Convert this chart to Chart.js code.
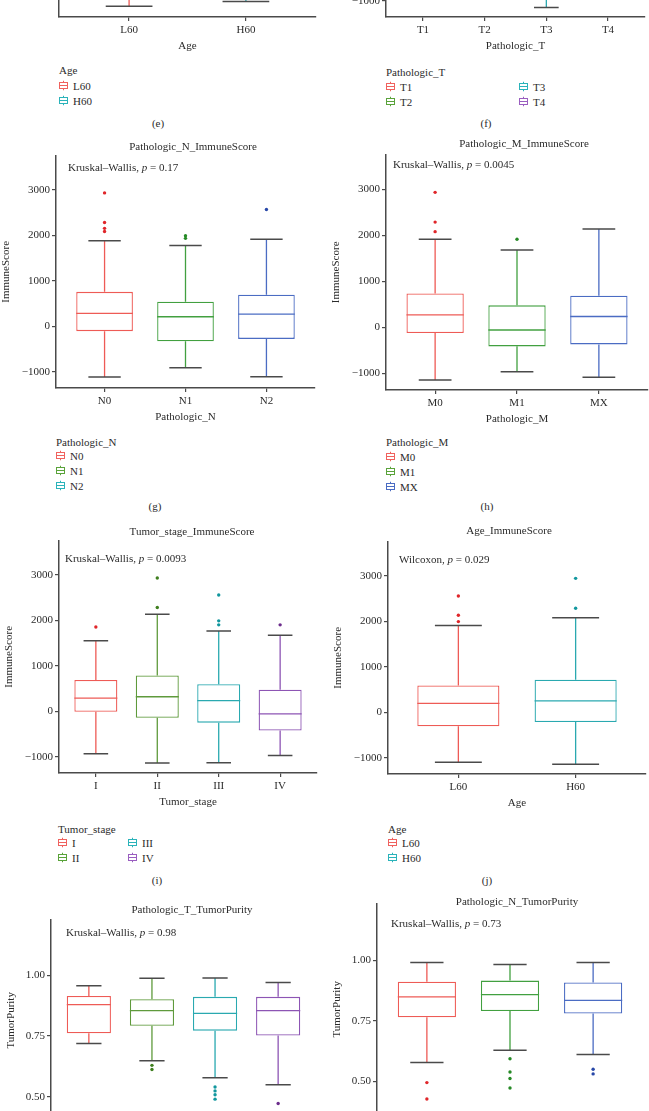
<!DOCTYPE html>
<html>
<head>
<meta charset="utf-8">
<script src="https://cdn.jsdelivr.net/npm/chart.js@4.4.0/dist/chart.umd.min.js"></script>
<style>
  body { margin: 0; background: #fff; }
  #fig { position: relative; width: 649px; height: 1111px; overflow: hidden;
         font-family: 'Liberation Serif', 'Times New Roman', serif; font-size: 11px; color: #2b2b2b; }
  #fig canvas { position: absolute; }
  .t { position: absolute; white-space: nowrap; line-height: 11px; transform: translateY(-50%); }
  .c { transform: translate(-50%, -50%); }
  .t svg { vertical-align: -1px; }
</style>
</head>
<body>
<div id="fig"></div>
<script>
// (e) Age - only the bottom of the panel is in view
const eCats = ['L60', 'H60'];
const eLow = [-1365, -1260];
const eQ1 = [-350, -250];
const eMed = [150, 250];
const eQ3 = [650, 750];
const eHigh = [2000, 2100];
const eOut = [[], []];

// (f) Pathologic_T - only the bottom of the panel is in view
const fCats = ['T1', 'T2', 'T3', 'T4'];
const fLow = [-900, -950, -1150, -850];
const fQ1 = [-200, -150, -300, -400];
const fMed = [300, 300, 200, 0];
const fQ3 = [700, 800, 600, 450];
const fHigh = [1600, 2100, 1750, 1650];
const fOut = [[], [], [], []];

// (g) Pathologic_N_ImmuneScore
const gCats = ['N0', 'N1', 'N2'];
const gLow = [-1120, -914, -1114];
const gQ1 = [-110, -332, -280];
const gMed = [280, 207, 265];
const gQ3 = [754, 539, 690];
const gHigh = [1875, 1774, 1910];
const gOut = [[2930, 2280, 2150, 2080], [1990, 1930], [2565]];

// (h) Pathologic_M_ImmuneScore
const hCats = ['M0', 'M1', 'MX'];
const hLow = [-1141, -964, -1085];
const hQ1 = [-122, -413, -370];
const hMed = [272, -57, 236];
const hQ3 = [735, 478, 685];
const hHigh = [1910, 1677, 2134];
const hOut = [[2930, 2285, 2077], [1913], []];

// (i) Tumor_stage_ImmuneScore
const iCats = ['I', 'II', 'III', 'IV'];
const iLow = [-937, -1140, -1133, -974];
const iQ1 = [-15, -145, -253, -426];
const iMed = [288, 317, 232, -58];
const iQ3 = [686, 786, 591, 472];
const iHigh = [1548, 2132, 1764, 1670];
const iOut = [[1851], [2928, 2279], [2554, 1985, 1898], [1898]];

// (j) Age_ImmuneScore
const jCats = ['L60', 'H60'];
const jLow = [-1104, -1147];
const jQ1 = [-310, -216];
const jMed = [195, 247];
const jQ3 = [585, 714];
const jHigh = [1904, 2078];
const jOut = [[2553, 2131, 1991], [2942, 2285]];

// Pathologic_T_TumorPurity (bottom cut off)
const kCats = ['T1', 'T2', 'T3', 'T4'];
const kLow = [0.719, 0.648, 0.578, 0.549];
const kQ1 = [0.761, 0.792, 0.772, 0.752];
const kMed = [0.879, 0.854, 0.843, 0.854];
const kQ3 = [0.915, 0.901, 0.911, 0.911];
const kHigh = [0.957, 0.988, 0.989, 0.970];
const kOut = [[], [0.629, 0.612], [0.540, 0.524, 0.508, 0.490], [0.472]];

// Pathologic_N_TumorPurity (bottom cut off)
const lCats = ['N0', 'N1', 'N2'];
const lLow = [0.577, 0.628, 0.610];
const lQ1 = [0.764, 0.790, 0.780];
const lMed = [0.849, 0.858, 0.834];
const lQ3 = [0.911, 0.916, 0.908];
const lHigh = [0.991, 0.983, 0.991];
const lOut = [[0.494, 0.426], [0.593, 0.538, 0.511, 0.472], [0.549, 0.530]];

const immuneTicks = [-1000, 0, 1000, 2000, 3000];
const purityTicks = [0.50, 0.75, 1.00];

const fig = document.getElementById('fig');
const family = "'Liberation Serif', 'Times New Roman', serif";
const textColor = '#2b2b2b';
const axisColor = '#4a4a4a';
const capColor = '#4a4a4a';

const red = '#ee5b56', green = '#42a040', olive = '#5f9a3c', blue = '#4b6cc3', teal = '#2aa9b0', purple = '#8d55b4';
const dRed = '#e0262a', dGreen = '#268a26', dOlive = '#3f7f1f', dBlue = '#2848a8', dTeal = '#12979e', dPurple = '#6c2d8c';
const lgRed = '#f0625e', lgGreen = '#5aa33a', lgTeal = '#2bb3ba', lgBlue = '#4b6cc3', lgPurple = '#9a5ec0';

const fmtImmune = v => (v < 0 ? '\u2212' + Math.abs(v) : String(v));
const fmtPurity = v => v.toFixed(2);

function boxPanel(p) {
  const n = p.cats.length;
  const cv = document.createElement('canvas');
  cv.width = p.yWidth + (p.right - p.left) + 6;
  cv.height = 5 + (p.bottom - p.top) + 40;
  cv.style.left = (p.left - p.yWidth) + 'px';
  cv.style.top = (p.top - 5) + 'px';
  fig.appendChild(cv);

  const points = [], pointColors = [];
  p.out.forEach((vals, i) => vals.forEach(v => {
    points.push({x: i, y: v});
    pointColors.push(p.dots[i]);
  }));

  const whiskers = {
    id: 'whiskers',
    beforeDatasetsDraw(chart) {
      const {ctx, scales: {x, y}} = chart;
      const step = x.getPixelForValue(1) - x.getPixelForValue(0);
      ctx.save();
      for (let i = 0; i < n; i++) {
        const cx = x.getPixelForValue(i);
        ctx.strokeStyle = p.colors[i];
        ctx.lineWidth = 1.3;
        ctx.beginPath();
        ctx.moveTo(cx, y.getPixelForValue(p.q3[i]));
        ctx.lineTo(cx, y.getPixelForValue(p.high[i]));
        ctx.moveTo(cx, y.getPixelForValue(p.q1[i]));
        ctx.lineTo(cx, y.getPixelForValue(p.low[i]));
        ctx.stroke();
        ctx.strokeStyle = capColor;
        ctx.lineWidth = 1.5;
        ctx.beginPath();
        [p.high[i], p.low[i]].forEach(v => {
          const py = y.getPixelForValue(v);
          ctx.moveTo(cx - step * 0.2, py);
          ctx.lineTo(cx + step * 0.2, py);
        });
        ctx.stroke();
      }
      ctx.restore();
    },
    afterDatasetsDraw(chart) {
      const {ctx, scales: {x, y}} = chart;
      const step = x.getPixelForValue(1) - x.getPixelForValue(0);
      ctx.save();
      ctx.lineWidth = 1.3;
      for (let i = 0; i < n; i++) {
        const cx = x.getPixelForValue(i);
        const py = y.getPixelForValue(p.med[i]);
        ctx.strokeStyle = p.colors[i];
        ctx.beginPath();
        ctx.moveTo(cx - step * 0.35, py);
        ctx.lineTo(cx + step * 0.35, py);
        ctx.stroke();
      }
      ctx.restore();
    }
  };

  const font = {family: family, size: 11};
  new Chart(cv, {
    type: 'bar',
    data: {
      datasets: [
        {
          type: 'bar',
          data: p.cats.map((c, i) => ({x: i, y: [p.q1[i], p.q3[i]]})),
          backgroundColor: '#ffffff',
          borderColor: p.colors,
          borderWidth: 1.3,
          borderSkipped: false,
          barPercentage: 0.7,
          categoryPercentage: 1
        },
        {
          type: 'scatter',
          data: points,
          pointBackgroundColor: pointColors,
          pointBorderWidth: 0,
          pointRadius: 1.7
        }
      ]
    },
    options: {
      responsive: false,
      animation: false,
      layout: {padding: {top: 5, right: 6, left: 0, bottom: 0}},
      plugins: {legend: {display: false}, tooltip: {enabled: false}},
      scales: {
        x: {
          type: 'linear',
          min: -0.6,
          max: n - 0.4,
          offset: false,
          afterBuildTicks: s => { s.ticks = p.cats.map((c, i) => ({value: i})); },
          afterFit: s => { s.height = 40; },
          grid: {display: true, drawOnChartArea: false, drawTicks: true, tickLength: 4, color: axisColor, lineWidth: 1.2, offset: false},
          border: {display: true, color: axisColor, width: 1.5},
          ticks: {padding: 3, color: textColor, font: font, maxRotation: 0, autoSkip: false, callback: v => p.cats[v]},
          title: {display: true, text: p.xTitle, color: textColor, font: font, padding: {top: 0, bottom: 4}}
        },
        y: {
          min: p.yMin,
          max: p.yMax,
          afterBuildTicks: s => { s.ticks = p.yTicks.map(v => ({value: v})); },
          afterFit: s => { s.width = p.yWidth; },
          grid: {display: true, drawOnChartArea: false, drawTicks: true, tickLength: 4, color: axisColor, lineWidth: 1.2},
          border: {display: true, color: axisColor, width: 1.5},
          ticks: {padding: 2, color: textColor, font: font, callback: v => p.fmt(v)},
          title: {display: true, text: p.yTitle, color: textColor, font: font, padding: 0}
        }
      }
    },
    plugins: [whiskers]
  });
}

function label(x, y, html, cls) {
  const d = document.createElement('div');
  d.className = 't' + (cls ? ' ' + cls : '');
  d.style.left = x + 'px';
  d.style.top = y + 'px';
  d.innerHTML = html;
  fig.appendChild(d);
}

function icon(col) {
  return '<svg width="9" height="10" viewBox="0 0 9 10"><g fill="none" stroke="' + col + '" stroke-width="1">' +
    '<line x1="4.5" y1="0" x2="4.5" y2="2"/><rect x="0.5" y="2" width="8" height="6"/>' +
    '<line x1="0.5" y1="5" x2="8.5" y2="5"/><line x1="4.5" y1="8" x2="4.5" y2="10"/></g></svg>';
}

function legend(x, y, title, names, colors, rows, colGap, dy) {
  label(x, y, title);
  names.forEach((nm, i) => {
    const col = Math.floor(i / rows), row = i % rows;
    label(x + col * colGap, y + dy + 15 * row, icon(colors[i]) + '<span style="margin-left:5px">' + nm + '</span>');
  });
}

const stat = (x, y, test, pv) => label(x, y, test + ', <i>p</i> = ' + pv);

// top row (cut off)
boxPanel({left: 59, right: 316, top: -219, bottom: 17, cats: eCats, low: eLow, q1: eQ1, med: eMed, q3: eQ3, high: eHigh, out: eOut,
  colors: [red, teal], dots: [dRed, dTeal], yMin: -1600, yMax: 3500, yTicks: immuneTicks, fmt: fmtImmune, yWidth: 56, yTitle: 'StromalScore', xTitle: 'Age'});
boxPanel({left: 386, right: 645, top: -219, bottom: 17, cats: fCats, low: fLow, q1: fQ1, med: fMed, q3: fQ3, high: fHigh, out: fOut,
  colors: [red, olive, teal, purple], dots: [dRed, dOlive, dTeal, dPurple], yMin: -1360, yMax: 3750, yTicks: immuneTicks, fmt: fmtImmune, yWidth: 56, yTitle: 'StromalScore', xTitle: 'Pathologic_T'});
legend(59, 70, 'Age', eCats, [lgRed, lgTeal], 2, 0, 15.5);
legend(386, 72, 'Pathologic_T', fCats, [lgRed, lgGreen, lgTeal, lgPurple], 2, 133, 14.5);
label(158, 123, '(e)', 'c');
label(486, 123, '(f)', 'c');

// (g) and (h)
boxPanel({left: 56, right: 315, top: 152, bottom: 388, cats: gCats, low: gLow, q1: gQ1, med: gMed, q3: gQ3, high: gHigh, out: gOut,
  colors: [red, green, blue], dots: [dRed, dGreen, dBlue], yMin: -1360, yMax: 3750, yTicks: immuneTicks, fmt: fmtImmune, yWidth: 56, yTitle: 'ImmuneScore', xTitle: 'Pathologic_N'});
boxPanel({left: 386, right: 648, top: 151, bottom: 390, cats: hCats, low: hLow, q1: hQ1, med: hMed, q3: hQ3, high: hHigh, out: hOut,
  colors: [red, green, blue], dots: [dRed, dGreen, dBlue], yMin: -1360, yMax: 3750, yTicks: immuneTicks, fmt: fmtImmune, yWidth: 56, yTitle: 'ImmuneScore', xTitle: 'Pathologic_M'});
label(193, 146, 'Pathologic_N_ImmuneScore', 'c');
label(524, 143, 'Pathologic_M_ImmuneScore', 'c');
stat(68, 167, 'Kruskal\u2013Wallis', '0.17');
stat(393, 164, 'Kruskal\u2013Wallis', '0.0045');
legend(56, 442, 'Pathologic_N', gCats, [lgRed, lgGreen, lgTeal], 3, 0, 14);
legend(386, 442, 'Pathologic_M', hCats, [lgRed, lgGreen, lgBlue], 3, 0, 14.5);
label(155, 506, '(g)', 'c');
label(487, 506, '(h)', 'c');

// (i) and (j)
boxPanel({left: 59, right: 317, top: 537, bottom: 773, cats: iCats, low: iLow, q1: iQ1, med: iMed, q3: iQ3, high: iHigh, out: iOut,
  colors: [red, olive, teal, purple], dots: [dRed, dOlive, dTeal, dPurple], yMin: -1360, yMax: 3750, yTicks: immuneTicks, fmt: fmtImmune, yWidth: 56, yTitle: 'ImmuneScore', xTitle: 'Tumor_stage'});
boxPanel({left: 388, right: 646, top: 538, bottom: 774, cats: jCats, low: jLow, q1: jQ1, med: jMed, q3: jQ3, high: jHigh, out: jOut,
  colors: [red, teal], dots: [dRed, dTeal], yMin: -1360, yMax: 3750, yTicks: immuneTicks, fmt: fmtImmune, yWidth: 56, yTitle: 'ImmuneScore', xTitle: 'Age'});
label(192, 531, 'Tumor_stage_ImmuneScore', 'c');
label(509, 530, 'Age_ImmuneScore', 'c');
stat(65, 558, 'Kruskal\u2013Wallis', '0.0093');
stat(399, 559, 'Wilcoxon', '0.029');
legend(58, 829, 'Tumor_stage', iCats, [lgRed, lgGreen, lgTeal, lgPurple], 2, 70, 14);
legend(388, 829, 'Age', jCats, [lgRed, lgTeal], 2, 0, 13.5);
label(157, 880, '(i)', 'c');
label(487, 880, '(j)', 'c');

// bottom row (cut off)
boxPanel({left: 51, right: 316, top: 916, bottom: 1121, cats: kCats, low: kLow, q1: kQ1, med: kMed, q3: kQ3, high: kHigh, out: kOut,
  colors: [red, olive, teal, purple], dots: [dRed, dOlive, dTeal, dPurple], yMin: 0.40, yMax: 1.229, yTicks: purityTicks, fmt: fmtPurity, yWidth: 46, yTitle: 'TumorPurity', xTitle: 'Pathologic_T'});
boxPanel({left: 377, right: 643, top: 900, bottom: 1115, cats: lCats, low: lLow, q1: lQ1, med: lMed, q3: lQ3, high: lHigh, out: lOut,
  colors: [red, green, blue], dots: [dRed, dGreen, dBlue], yMin: 0.36, yMax: 1.2346, yTicks: purityTicks, fmt: fmtPurity, yWidth: 46, yTitle: 'TumorPurity', xTitle: 'Pathologic_N'});
label(192, 909, 'Pathologic_T_TumorPurity', 'c');
label(517, 901, 'Pathologic_N_TumorPurity', 'c');
stat(66, 932, 'Kruskal\u2013Wallis', '0.98');
stat(391, 923, 'Kruskal\u2013Wallis', '0.73');
</script>
</body>
</html>
